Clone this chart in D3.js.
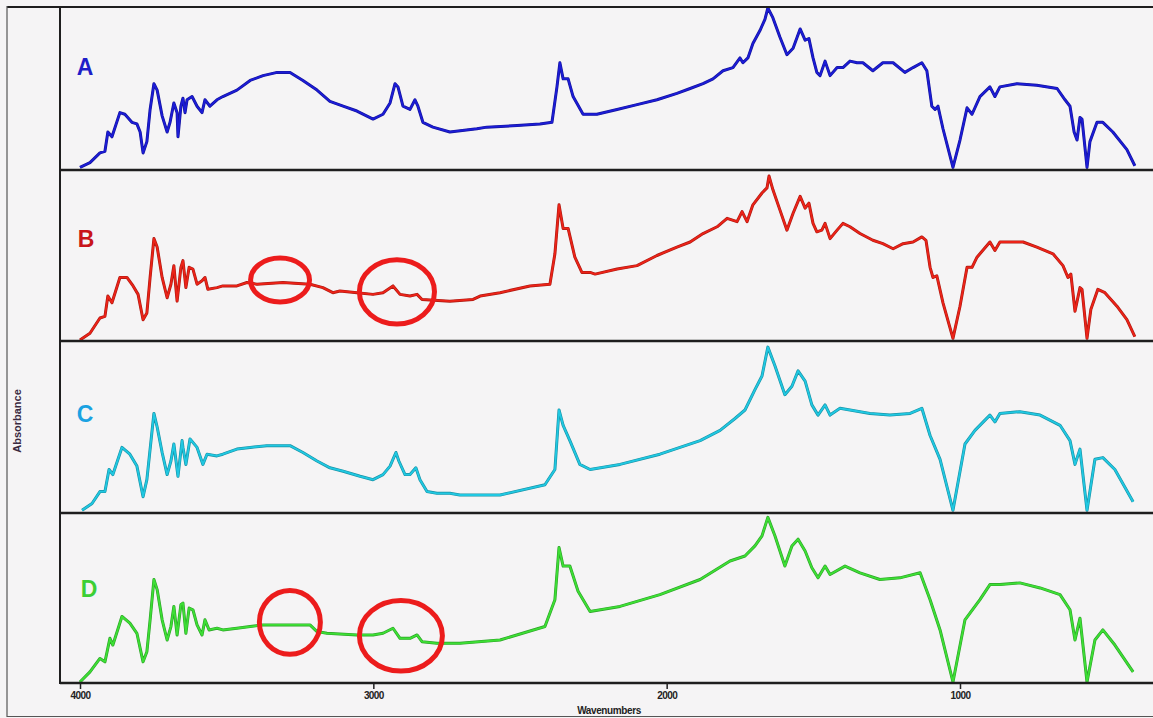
<!DOCTYPE html>
<html>
<head>
<meta charset="utf-8">
<script src="https://cdn.jsdelivr.net/npm/d3@7"></script>
<style>
  html, body { margin: 0; padding: 0; background: #f5f4f5; }
  svg { display: block; }
</style>
</head>
<body>
<svg id="chart" width="1153" height="718"></svg>
<script>
// FTIR absorbance spectra, four samples stacked; absorbance normalised per panel (0..1)
const panelLabels = ["A", "B", "C", "D"];
const xTicks = [4000, 3000, 2000, 1000];
const xTitle = "Wavenumbers";
const yTitle = "Absorbance";

const wavenumbersA = [4000,3966,3932,3915,3905,3891,3864,3847,3823,3806,3795,3785,3772,3761,3748,3737,3720,3703,3693,3680,3669,3666,3656,3649,3642,3635,3618,3601,3584,3574,3557,3533,3513,3465,3420,3376,3328,3284,3240,3192,3148,3103,3056,3001,2967,2943,2926,2916,2899,2875,2858,2848,2831,2797,2739,2647,2613,2510,2432,2391,2374,2364,2353,2336,2319,2285,2238,2169,2101,2033,1965,1920,1876,1842,1808,1774,1750,1740,1723,1706,1682,1665,1655,1638,1614,1590,1569,1545,1528,1515,1501,1488,1477,1460,1443,1419,1399,1375,1351,1331,1297,1263,1228,1188,1160,1130,1113,1096,1085,1075,1058,1024,1000,976,959,932,898,881,864,806,738,669,642,625,611,601,591,584,567,557,533,513,479,431,404];
const absorbanceA = [0.01,0.04,0.10,0.11,0.23,0.20,0.35,0.34,0.29,0.28,0.23,0.10,0.17,0.37,0.53,0.49,0.33,0.23,0.29,0.41,0.35,0.20,0.39,0.44,0.35,0.43,0.45,0.39,0.35,0.43,0.39,0.43,0.45,0.49,0.55,0.58,0.60,0.60,0.55,0.49,0.42,0.39,0.36,0.31,0.34,0.41,0.53,0.51,0.39,0.37,0.43,0.39,0.29,0.26,0.23,0.25,0.26,0.27,0.28,0.29,0.51,0.66,0.56,0.56,0.45,0.34,0.34,0.37,0.40,0.43,0.47,0.50,0.53,0.56,0.61,0.63,0.69,0.66,0.69,0.78,0.86,0.93,1.00,0.94,0.82,0.71,0.75,0.87,0.80,0.81,0.69,0.60,0.58,0.67,0.58,0.63,0.63,0.67,0.66,0.66,0.61,0.66,0.66,0.60,0.63,0.66,0.61,0.39,0.37,0.39,0.25,0.01,0.18,0.38,0.34,0.45,0.51,0.45,0.51,0.53,0.52,0.50,0.43,0.39,0.23,0.18,0.32,0.31,0.01,0.17,0.29,0.29,0.23,0.12,0.02];

const wavenumbersB = [4000,3966,3932,3915,3905,3891,3864,3840,3819,3802,3785,3772,3761,3748,3737,3720,3703,3690,3680,3669,3656,3649,3639,3628,3615,3601,3584,3574,3564,3533,3513,3465,3431,3397,3308,3216,3172,3138,3114,3056,3001,2967,2933,2909,2875,2851,2834,2739,2660,2636,2568,2466,2398,2381,2367,2353,2336,2313,2289,2261,2244,2169,2101,2033,1965,1920,1876,1828,1794,1760,1743,1726,1706,1675,1658,1651,1638,1614,1590,1569,1545,1528,1515,1501,1488,1471,1460,1443,1419,1399,1375,1341,1297,1263,1228,1194,1160,1130,1116,1102,1092,1079,1058,1024,1000,976,959,942,898,881,864,785,738,683,649,632,622,608,591,584,567,554,530,506,465,431,404];
const absorbanceB = [0.00,0.04,0.13,0.14,0.26,0.22,0.37,0.37,0.32,0.27,0.12,0.16,0.37,0.60,0.55,0.37,0.25,0.33,0.44,0.23,0.43,0.47,0.31,0.43,0.42,0.33,0.35,0.37,0.30,0.31,0.32,0.32,0.34,0.33,0.34,0.33,0.31,0.28,0.29,0.28,0.27,0.28,0.32,0.27,0.26,0.27,0.24,0.23,0.24,0.26,0.28,0.32,0.33,0.51,0.80,0.66,0.66,0.49,0.40,0.40,0.39,0.42,0.44,0.50,0.55,0.58,0.63,0.67,0.72,0.70,0.76,0.70,0.80,0.87,0.90,0.97,0.89,0.77,0.65,0.75,0.85,0.78,0.81,0.69,0.64,0.65,0.69,0.60,0.65,0.69,0.67,0.63,0.59,0.57,0.54,0.57,0.58,0.61,0.59,0.43,0.37,0.38,0.22,0.01,0.20,0.43,0.43,0.49,0.58,0.53,0.58,0.58,0.55,0.51,0.44,0.37,0.39,0.17,0.31,0.30,0.01,0.18,0.30,0.28,0.20,0.12,0.02];

const wavenumbersC = [3993,3959,3932,3915,3901,3888,3857,3830,3806,3785,3772,3761,3748,3737,3720,3703,3690,3680,3666,3652,3649,3639,3625,3601,3581,3567,3533,3513,3465,3420,3363,3284,3240,3192,3148,3103,3045,3001,2967,2943,2923,2913,2892,2875,2855,2841,2817,2783,2739,2705,2568,2415,2381,2367,2353,2330,2296,2261,2159,2023,1886,1818,1767,1733,1699,1675,1655,1631,1597,1573,1552,1528,1505,1484,1460,1443,1409,1375,1307,1239,1170,1130,1102,1068,1024,983,949,898,881,864,796,727,659,625,608,591,567,540,513,472,410];
const absorbanceC = [0.01,0.05,0.12,0.12,0.25,0.22,0.38,0.34,0.27,0.09,0.19,0.37,0.58,0.50,0.35,0.22,0.30,0.40,0.21,0.42,0.38,0.28,0.43,0.38,0.28,0.34,0.33,0.34,0.37,0.38,0.39,0.39,0.35,0.30,0.26,0.24,0.21,0.19,0.22,0.27,0.35,0.30,0.22,0.22,0.26,0.19,0.12,0.11,0.11,0.10,0.10,0.16,0.25,0.60,0.51,0.42,0.28,0.25,0.28,0.34,0.42,0.48,0.55,0.60,0.72,0.80,0.97,0.86,0.69,0.74,0.83,0.77,0.63,0.57,0.63,0.57,0.61,0.60,0.58,0.57,0.58,0.61,0.45,0.31,0.01,0.40,0.48,0.57,0.53,0.58,0.59,0.57,0.51,0.42,0.28,0.37,0.01,0.31,0.32,0.25,0.06];

const wavenumbersD = [4000,3966,3932,3915,3898,3888,3857,3830,3806,3785,3772,3761,3748,3737,3720,3703,3690,3680,3669,3656,3649,3639,3628,3615,3601,3584,3574,3560,3533,3513,3465,3420,3376,3284,3216,3192,3158,3056,3001,2967,2933,2909,2875,2851,2834,2783,2739,2705,2568,2415,2381,2367,2353,2330,2302,2261,2159,2023,1886,1784,1733,1699,1675,1655,1631,1597,1573,1552,1528,1505,1484,1460,1443,1392,1341,1273,1205,1136,1102,1068,1024,983,932,898,864,796,727,659,625,608,591,567,540,513,472,410];
const absorbanceD = [0.00,0.06,0.14,0.12,0.26,0.22,0.39,0.35,0.29,0.12,0.18,0.37,0.61,0.55,0.37,0.25,0.33,0.45,0.28,0.46,0.47,0.29,0.44,0.43,0.34,0.28,0.37,0.31,0.32,0.31,0.32,0.33,0.34,0.34,0.34,0.30,0.29,0.28,0.28,0.29,0.32,0.26,0.26,0.28,0.24,0.23,0.23,0.23,0.25,0.33,0.49,0.80,0.69,0.69,0.54,0.42,0.45,0.52,0.61,0.72,0.75,0.81,0.87,0.98,0.87,0.69,0.81,0.85,0.78,0.68,0.62,0.69,0.64,0.69,0.65,0.61,0.62,0.65,0.49,0.31,0.00,0.37,0.49,0.58,0.58,0.59,0.56,0.52,0.43,0.25,0.38,0.00,0.25,0.31,0.22,0.06];

// highlighted regions (panel index, wavenumber span, absorbance span)
const highlightPanel = [1, 1, 3, 3];
const highlightWnFrom = [3427, 3056, 3397, 3056];
const highlightWnTo   = [3209, 2783, 3172, 2756];
const highlightAbsLow = [0.21, 0.08, 0.15, 0.05];
const highlightAbsHigh= [0.50, 0.49, 0.56, 0.50];

const seriesWn  = [wavenumbersA, wavenumbersB, wavenumbersC, wavenumbersD];
const seriesAbs = [absorbanceA, absorbanceB, absorbanceC, absorbanceD];

// ---- layout ----
const W = 1153, H = 718;
const plotLeft = 60, plotRight = 1153;
const panelEdges = [7, 170, 341, 513, 683];
const lineColors  = ["#1c1cd6", "#ec2318", "#20c8e2", "#3ddf35"];
const labelColors = ["#1e1ec8", "#c8141a", "#1aa2e2", "#3ccf34"];
const labelX = [85, 86, 85, 89];
const labelY = [67, 239, 414, 589];

const svg = d3.select("#chart");

svg.append("rect").attr("width", W).attr("height", H).attr("fill", "#f5f4f5");

const x = d3.scaleLinear().domain([4000, 1000]).range([80, 960]);

const plot = svg.append("g");

// draw each spectrum in its own band
panelLabels.forEach((lab, i) => {
  const y = d3.scaleLinear().domain([0, 1]).range([panelEdges[i + 1] - 1, panelEdges[i] + 1]);
  const pts = seriesWn[i].map((w, k) => [w, seriesAbs[i][k]]);
  const line = d3.line().x(d => x(d[0])).y(d => y(d[1]));
  plot.append("path")
    .datum(pts)
    .attr("d", line)
    .attr("fill", "none")
    .attr("stroke", d3.color(lineColors[i]).darker(0.9))
    .attr("stroke-width", 3)
    .attr("stroke-linejoin", "round");
  plot.append("path")
    .datum(pts)
    .attr("d", line)
    .attr("fill", "none")
    .attr("stroke", lineColors[i])
    .attr("stroke-width", 1.8)
    .attr("stroke-linejoin", "round");

  svg.append("text")
    .attr("x", labelX[i]).attr("y", labelY[i])
    .attr("text-anchor", "middle")
    .attr("dominant-baseline", "central")
    .attr("font-family", "'Liberation Sans', Arial, sans-serif")
    .attr("font-size", 23)
    .attr("font-weight", "bold")
    .attr("fill", labelColors[i])
    .text(lab);
});

// red highlight ellipses
highlightPanel.forEach((p, k) => {
  const y = d3.scaleLinear().domain([0, 1]).range([panelEdges[p + 1] - 1, panelEdges[p] + 1]);
  const x0 = x(highlightWnFrom[k]), x1 = x(highlightWnTo[k]);
  const y0 = y(highlightAbsHigh[k]), y1 = y(highlightAbsLow[k]);
  svg.append("ellipse")
    .attr("cx", (x0 + x1) / 2).attr("cy", (y0 + y1) / 2)
    .attr("rx", Math.abs(x1 - x0) / 2 - 2.5).attr("ry", Math.abs(y1 - y0) / 2 - 2.5)
    .attr("fill", "none")
    .attr("stroke", "#ec1c1c")
    .attr("stroke-width", 5);
});

// panel separators and frame
panelEdges.forEach((yy, i) => {
  svg.append("line")
    .attr("x1", i === 0 ? 7 : plotLeft).attr("x2", plotRight)
    .attr("y1", yy).attr("y2", yy)
    .attr("stroke", "#1e1e1e")
    .attr("stroke-width", i === 0 ? 2 : 2.6);
});
svg.append("line").attr("x1", plotLeft).attr("x2", plotLeft)
  .attr("y1", panelEdges[0]).attr("y2", panelEdges[4] + 1)
  .attr("stroke", "#1e1e1e").attr("stroke-width", 2);
svg.append("line").attr("x1", 7).attr("x2", 7)
  .attr("y1", 6).attr("y2", 717)
  .attr("stroke", "#555").attr("stroke-width", 1.2);
svg.append("line").attr("x1", 7).attr("x2", W)
  .attr("y1", 716.5).attr("y2", 716.5)
  .attr("stroke", "#555").attr("stroke-width", 1.2);

// wavenumber axis
const axis = d3.axisBottom(x).tickValues(xTicks).tickSize(6).tickSizeOuter(0).tickFormat(d3.format("d"));
const ax = svg.append("g").attr("transform", `translate(0,${panelEdges[4]})`).call(axis);
ax.select(".domain").remove();
ax.selectAll(".tick line").attr("stroke", "#222").attr("stroke-width", 1.5);
ax.selectAll(".tick text")
  .attr("y", 9)
  .attr("font-family", "'Liberation Sans Narrow', 'Liberation Sans', Arial, sans-serif")
  .attr("font-size", 10)
  .attr("font-weight", "bold")
  .attr("fill", "#222")
  .attr("letter-spacing", -0.6);

svg.append("text")
  .attr("x", 609).attr("y", 714)
  .attr("text-anchor", "middle")
  .attr("font-family", "'Liberation Sans Narrow', 'Liberation Sans', Arial, sans-serif")
  .attr("font-size", 10)
  .attr("font-weight", "bold")
  .attr("letter-spacing", -0.4)
  .attr("fill", "#222")
  .text(xTitle);

svg.append("text")
  .attr("transform", "translate(21,421) rotate(-90)")
  .attr("text-anchor", "middle")
  .attr("font-family", "'Liberation Sans Narrow', 'Liberation Sans', Arial, sans-serif")
  .attr("font-size", 11)
  .attr("font-weight", "bold")
  .attr("fill", "#3a2a40")
  .text(yTitle);
</script>
</body>
</html>
